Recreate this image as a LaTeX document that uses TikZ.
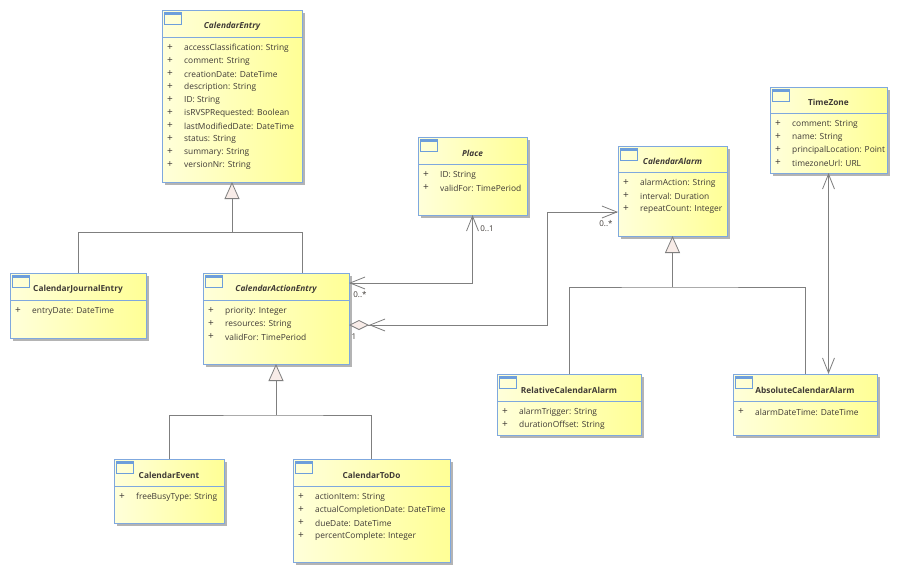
\documentclass[tikz,border=0pt]{standalone}
\usepackage{fontspec}
\setmainfont{Open Sans}
\usetikzlibrary{arrows.meta,shadows,calc}
\definecolor{boxL}{HTML}{FFFFDA}
\definecolor{boxR}{HTML}{FFFF96}
\definecolor{boxBorder}{HTML}{7FA8DE}
\definecolor{iconBlue}{HTML}{6D9EDB}
\definecolor{lineGray}{HTML}{7F7F7F}
\definecolor{shadowGray}{HTML}{B4B4B4}
\definecolor{txt}{HTML}{3F3A36}
\definecolor{tipFill}{HTML}{F8ECE8}
\tikzset{
  classbox/.style={draw=boxBorder, line width=0.9pt, left color=boxL, right color=boxR,
    inner sep=0pt, outer sep=0pt,
    drop shadow={shadow xshift=3pt, shadow yshift=-3pt, fill=shadowGray, opacity=1}},
  boxline/.style={draw=boxBorder, line width=0.9pt},
  iconline/.style={draw=iconBlue, line width=0.8pt},
  titletext/.style={font=\fontsize{8.3}{9}\selectfont\bfseries, text=txt, inner sep=0pt},
  attrtext/.style={font=\fontsize{8.4}{9}\selectfont, text=txt, inner sep=0pt, anchor=west},
  plustext/.style={font=\fontsize{10}{10}\selectfont, text=txt, inner sep=0pt},
  multtext/.style={font=\fontsize{8}{9}\selectfont, text=txt, inner sep=0pt},
  conn/.style={draw=lineGray, line width=0.8pt},
  genarrow/.style={conn, -{Triangle[length=17pt,width=15pt,fill=tipFill]}},
  assocboth/.style={conn, {Straight Barb[length=15pt,width=12pt]}-{Straight Barb[length=15pt,width=12pt]}},
  aggrarrow/.style={conn, {Diamond[length=20pt,width=10pt,fill=tipFill] Straight Barb[length=15pt,width=12pt]}-{Straight Barb[length=15pt,width=12pt]}}
}
\newcommand{\umlclass}[8]{%
  \node[classbox, minimum width=#4pt, minimum height=#5pt, anchor=north west] (#1) at (#2,#3) {};
  \draw[boxline] ($(#1.north west)+(0,#6)$) -- ($(#1.north east)+(0,#6)$);
  \fill[iconBlue] ($(#1.north west)+(2,2)$) rectangle ($(#1.north west)+(19,5)$);
  \draw[iconline] ($(#1.north west)+(2,2)$) rectangle ($(#1.north west)+(19,14)$);
  \node[titletext] (#1-title) at ($(#1.north)+(0,#6-11)$) {#7};
  \foreach \a [count=\i] in {#8} {
    \node[plustext] (#1-p\i) at ($(#1.north west)+(8,#6+11+13*\i-13)$) {+};
    \node[attrtext] (#1-a\i) at ($(#1.north west)+(22,#6+11+13*\i-13)$) {\a};
  }%
}
\begin{document}
\begin{tikzpicture}[x=1pt,y=-1pt]
\fill[white] (0,0) rectangle (898,573);
\useasboundingbox (0,0) rectangle (898,573);

\umlclass{ce}{162}{10}{140}{172}{27}{\itshape CalendarEntry}{accessClassification: String, comment: String, creationDate: DateTime, description: String, ID: String, isRVSPRequested: Boolean, lastModifiedDate: DateTime, status: String, summary: String, versionNr: String}
\umlclass{place}{418}{137}{109}{78}{27}{\itshape Place}{ID: String, validFor: TimePeriod}
\umlclass{ca}{618}{146}{109}{90}{26}{\itshape CalendarAlarm}{alarmAction: String, interval: Duration, repeatCount: Integer}
\umlclass{tz}{770}{87}{117}{86}{26}{TimeZone}{comment: String, name: String, principalLocation: Point, timezoneUrl: URL}
\umlclass{cje}{10}{273}{136}{65}{27}{CalendarJournalEntry}{entryDate: DateTime}
\umlclass{cae}{203}{273}{146}{91}{27}{\itshape CalendarActionEntry}{priority: Integer, resources: String, validFor: TimePeriod}
\umlclass{cev}{114}{459}{110}{64}{27}{CalendarEvent}{freeBusyType: String}
\umlclass{todo}{293}{459}{157}{103}{27}{CalendarToDo}{actionItem: String, actualCompletionDate: DateTime, dueDate: DateTime, percentComplete: Integer}
\umlclass{rca}{497}{374}{144}{61}{27}{RelativeCalendarAlarm}{alarmTrigger: String, durationOffset: String}
\umlclass{aca}{733}{374}{144}{61}{27}{AbsoluteCalendarAlarm}{alarmDateTime: DateTime}

% generalizations
\coordinate (j1) at (232,232);
\coordinate (j1a) at (302,232);
\draw[genarrow] (j1) -- (ce.south);
\draw[conn] (cje.north) |- (j1a) -- (j1a |- cae.north);

\coordinate (j2) at (276,415);
\draw[genarrow] (j2) -- (cae.south);
\draw[conn] (cev.north) |- (j2) -| (todo.north);

\coordinate (j3) at (672.5,287);
\draw[genarrow] (j3) -- (ca.south);
\draw[conn] (rca.north) |- (j3) -| (aca.north);

% associations
\coordinate (yPl) at (0,283);
\draw[assocboth] (cae.east |- yPl) -| (place.south);
\coordinate (yAg) at (0,325);
\coordinate (xAg) at (547,0);
\coordinate (yAl) at (0,212);
\draw[aggrarrow] (cae.east |- yAg) -| (xAg |- yAl) -- (ca.west |- yAl);
\draw[assocboth] (tz.south) -- (tz.south |- aca.north);

% multiplicities
\node[multtext] (m1) at (487,229) {0..1};
\node[multtext] (m2) at (360,295) {0..*};
\node[multtext] (m3) at (606,224) {0..*};
\node[multtext] (m4) at (354,337) {1};
\end{tikzpicture}
\end{document}
